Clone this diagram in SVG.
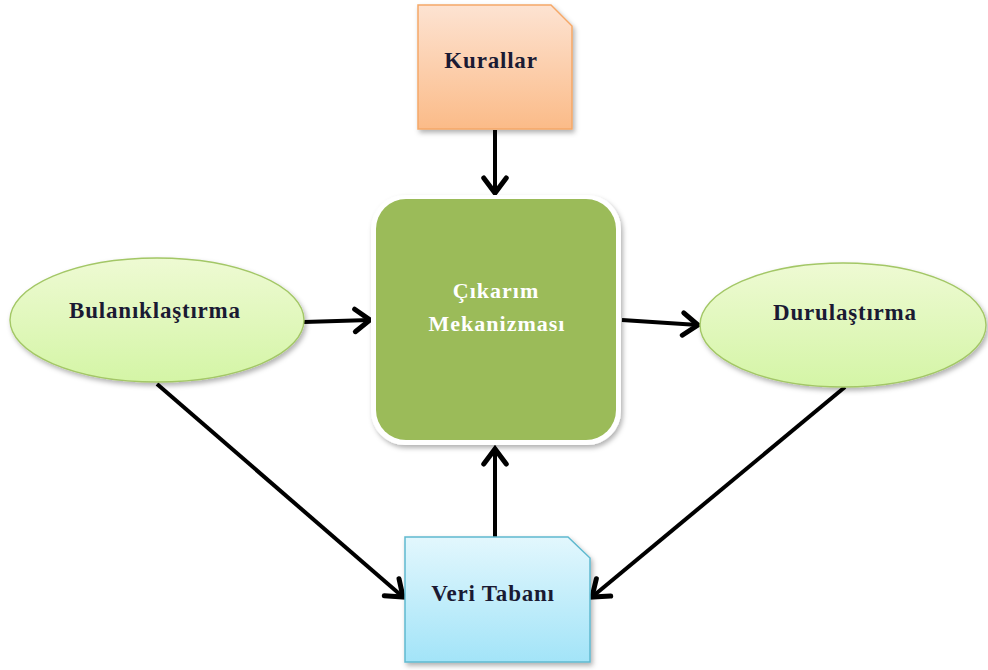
<svg xmlns="http://www.w3.org/2000/svg" width="988" height="670" viewBox="0 0 988 670">
<defs>
<style>
.lbl{font-family:"Liberation Serif","Times New Roman",serif;font-weight:bold;font-size:23px;fill:#1a1a33;text-anchor:middle;letter-spacing:0.8px}
.wl{font-family:"Liberation Serif","Times New Roman",serif;font-weight:bold;font-size:22px;fill:#ffffff;text-anchor:middle;letter-spacing:1px}
.edge{stroke:#000;stroke-width:4;fill:none;marker-end:url(#ah)}
.ell{stroke:#a3c766;stroke-width:1.4;fill:url(#gGreen);filter:url(#sh)}
</style>
<linearGradient id="gPeach" x1="0" y1="0" x2="0" y2="1">
<stop offset="0" stop-color="#fde3d2"/><stop offset="1" stop-color="#fbbb88"/>
</linearGradient>
<linearGradient id="gCyan" x1="0" y1="0" x2="0" y2="1">
<stop offset="0" stop-color="#e2f7fd"/><stop offset="1" stop-color="#a3e4f8"/>
</linearGradient>
<linearGradient id="gGreen" x1="0" y1="0" x2="0" y2="1">
<stop offset="0" stop-color="#eefad3"/><stop offset="1" stop-color="#d4f5a6"/>
</linearGradient>
<filter id="sh" x="-10%" y="-10%" width="125%" height="130%">
<feDropShadow dx="2" dy="3" stdDeviation="2.5" flood-color="#000" flood-opacity="0.3"/>
</filter>
<marker id="ah" markerUnits="userSpaceOnUse" markerWidth="30" markerHeight="30" viewBox="-16 -12 20 24" refX="0" refY="0" orient="auto">
<path d="M-12,-9 L0,0 L-12,9" fill="none" stroke="#000" stroke-width="4" stroke-linejoin="miter" stroke-linecap="round"/>
</marker>
</defs>

<g id="connectors">
<line class="edge" x1="495" y1="130" x2="495" y2="193"/>
<line class="edge" x1="304" y1="322" x2="370" y2="320"/>
<line class="edge" x1="622" y1="320" x2="698" y2="325"/>
<line class="edge" x1="495" y1="537" x2="495" y2="449"/>
<line class="edge" x1="157" y1="384" x2="403" y2="597"/>
<line class="edge" x1="845" y1="387" x2="592" y2="597"/>
</g>

<g id="kurallar">
<path d="M418,5 L551,5 L572,26 L572,129 L418,129 Z" fill="url(#gPeach)" stroke="#f5a868" stroke-width="1.5" filter="url(#sh)"/>
<text class="lbl" x="491" y="68">Kurallar</text>
</g>

<g id="cikarim">
<rect x="371" y="195" width="250" height="250" rx="34" fill="#ffffff" filter="url(#sh)"/>
<rect x="376" y="199" width="240" height="241" rx="30" fill="#9bbb59"/>
<text class="wl" x="496" y="298">Çıkarım</text>
<text class="wl" x="497" y="331">Mekanizması</text>
</g>

<g id="bulaniklastirma">
<ellipse class="ell" cx="157" cy="320" rx="147" ry="62"/>
<text class="lbl" x="155" y="318">Bulanıklaştırma</text>
</g>

<g id="durulastirma">
<ellipse class="ell" cx="843" cy="325" rx="143" ry="62"/>
<text class="lbl" x="845" y="320">Durulaştırma</text>
</g>

<g id="veritabani">
<path d="M405,537 L568,537 L590,558 L590,662 L405,662 Z" fill="url(#gCyan)" stroke="#5fb9cf" stroke-width="1.5" filter="url(#sh)"/>
<text class="lbl" x="493" y="601">Veri Tabanı</text>
</g>
</svg>
